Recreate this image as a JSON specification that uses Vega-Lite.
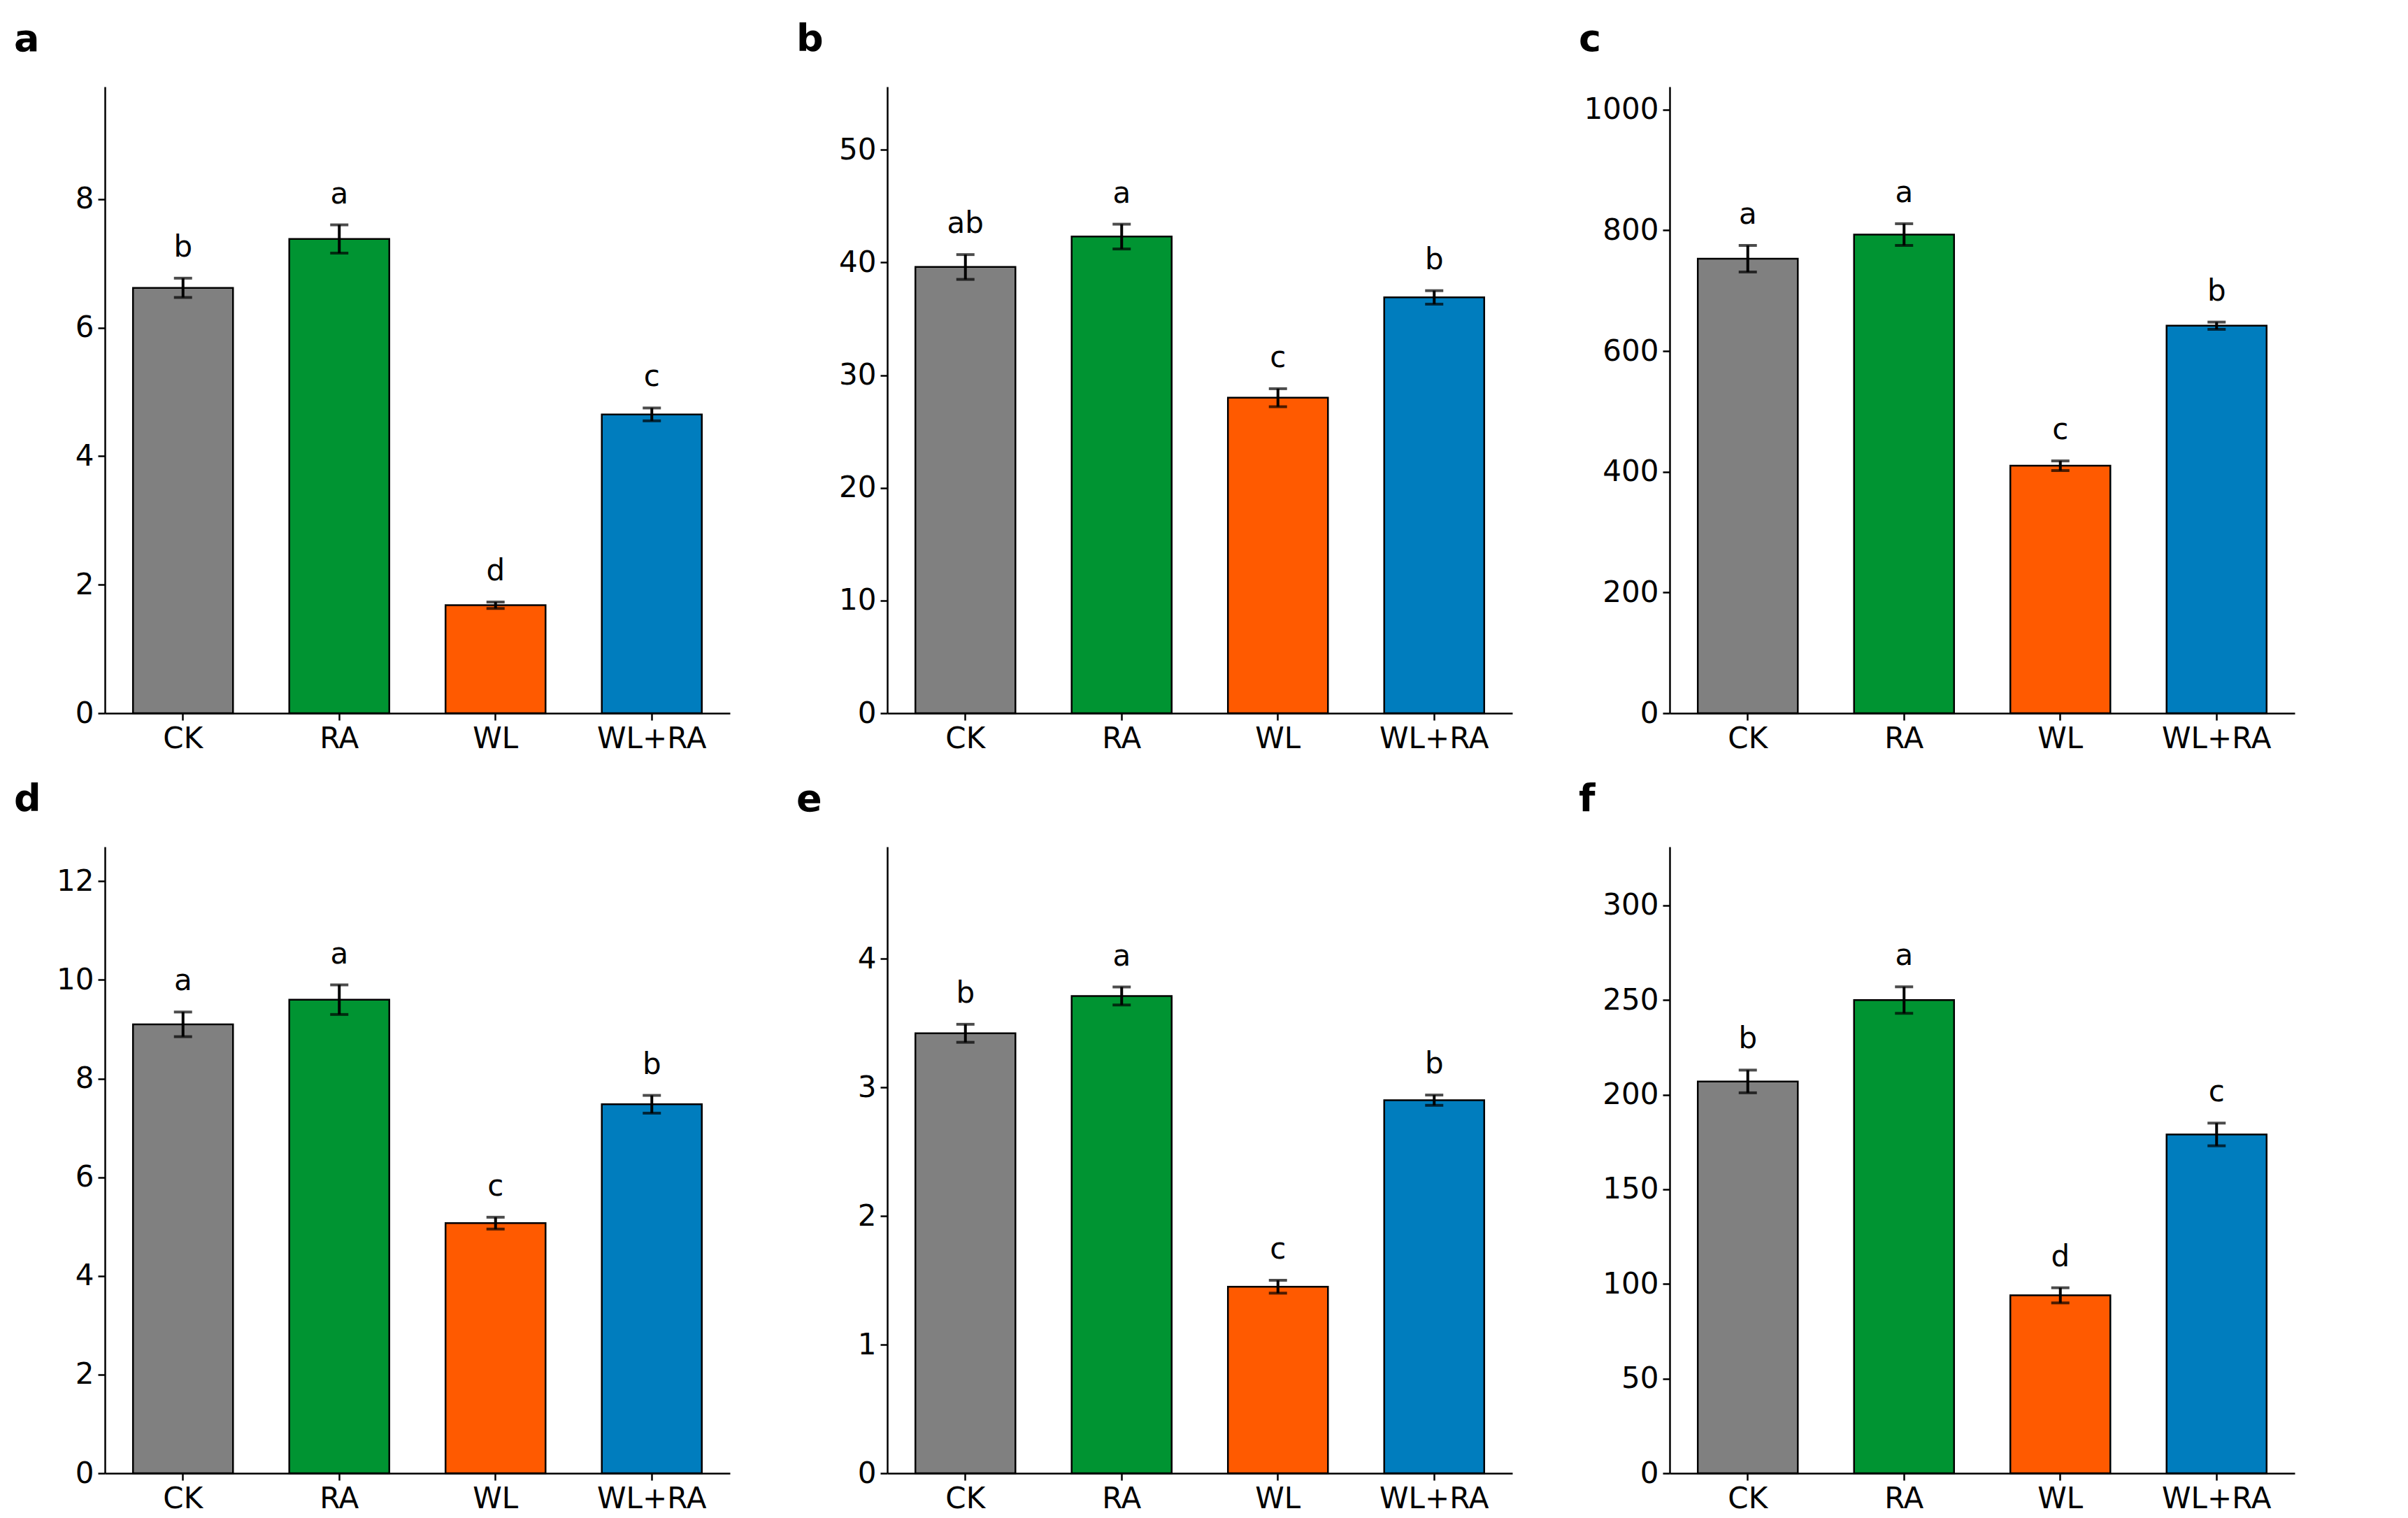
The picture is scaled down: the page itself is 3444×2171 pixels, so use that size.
{
  "$schema": "https://vega.github.io/schema/vega-lite/v6.json",
  "background": "white",
  "padding": {"left": 20, "top": 30, "right": 10, "bottom": 10},
  "datasets": {
    "d": [
      {"p": "a", "trt": "CK", "mean": 6.62, "lo": 6.47, "hi": 6.77, "let": "b"},
      {"p": "a", "trt": "RA", "mean": 7.38, "lo": 7.16, "hi": 7.60, "let": "a"},
      {"p": "a", "trt": "WL", "mean": 1.68, "lo": 1.63, "hi": 1.73, "let": "d"},
      {"p": "a", "trt": "WL+RA", "mean": 4.65, "lo": 4.55, "hi": 4.75, "let": "c"},
      {"p": "b", "trt": "CK", "mean": 39.6, "lo": 38.5, "hi": 40.7, "let": "ab"},
      {"p": "b", "trt": "RA", "mean": 42.3, "lo": 41.2, "hi": 43.4, "let": "a"},
      {"p": "b", "trt": "WL", "mean": 28.0, "lo": 27.2, "hi": 28.8, "let": "c"},
      {"p": "b", "trt": "WL+RA", "mean": 36.9, "lo": 36.3, "hi": 37.5, "let": "b"},
      {"p": "c", "trt": "CK", "mean": 753, "lo": 731, "hi": 775, "let": "a"},
      {"p": "c", "trt": "RA", "mean": 793, "lo": 775, "hi": 811, "let": "a"},
      {"p": "c", "trt": "WL", "mean": 410, "lo": 402, "hi": 418, "let": "c"},
      {"p": "c", "trt": "WL+RA", "mean": 642, "lo": 636, "hi": 648, "let": "b"},
      {"p": "d", "trt": "CK", "mean": 9.1, "lo": 8.85, "hi": 9.35, "let": "a"},
      {"p": "d", "trt": "RA", "mean": 9.6, "lo": 9.3, "hi": 9.9, "let": "a"},
      {"p": "d", "trt": "WL", "mean": 5.07, "lo": 4.95, "hi": 5.19, "let": "c"},
      {"p": "d", "trt": "WL+RA", "mean": 7.48, "lo": 7.3, "hi": 7.66, "let": "b"},
      {"p": "e", "trt": "CK", "mean": 3.42, "lo": 3.35, "hi": 3.49, "let": "b"},
      {"p": "e", "trt": "RA", "mean": 3.71, "lo": 3.64, "hi": 3.78, "let": "a"},
      {"p": "e", "trt": "WL", "mean": 1.45, "lo": 1.40, "hi": 1.50, "let": "c"},
      {"p": "e", "trt": "WL+RA", "mean": 2.90, "lo": 2.86, "hi": 2.94, "let": "b"},
      {"p": "f", "trt": "CK", "mean": 207, "lo": 201, "hi": 213, "let": "b"},
      {"p": "f", "trt": "RA", "mean": 250, "lo": 243, "hi": 257, "let": "a"},
      {"p": "f", "trt": "WL", "mean": 94, "lo": 90, "hi": 98, "let": "d"},
      {"p": "f", "trt": "WL+RA", "mean": 179, "lo": 173, "hi": 185, "let": "c"}
    ]
  },
  "columns": 3,
  "spacing": {"column": 95, "row": 40},
  "concat": [
    {
      "title": "a", "width": 894, "height": 896,
      "data": {"name": "d"}, "transform": [{"filter": "datum.p == 'a'"}],
      "encoding": {"x": {"field": "trt", "type": "nominal", "sort": null, "title": null, "scale": {"paddingInner": 0.36, "paddingOuter": 0.18}}},
      "layer": [
        {"mark": {"type": "bar", "stroke": "black", "strokeWidth": 2.5}, "encoding": {"y": {"field": "mean", "type": "quantitative", "title": "Root-zone dissolved oxygen (mg L⁻¹)", "scale": {"domain": [0, 9.75], "nice": false}, "axis": {"values": [0, 2, 4, 6, 8], "format": "d"}}, "color": {"field": "trt", "type": "nominal", "sort": null, "legend": null}}},
        {"mark": {"type": "errorbar", "ticks": {"size": 26, "strokeWidth": 4}, "color": "black", "thickness": 4}, "encoding": {"y": {"field": "lo", "type": "quantitative", "title": null}, "y2": {"field": "hi"}}},
        {"mark": {"type": "text", "dy": -22, "baseline": "bottom", "fontSize": 42}, "encoding": {"y": {"field": "hi", "type": "quantitative", "title": null}, "text": {"field": "let"}}}
      ]
    },
    {
      "title": "b", "width": 894, "height": 896,
      "data": {"name": "d"}, "transform": [{"filter": "datum.p == 'b'"}],
      "encoding": {"x": {"field": "trt", "type": "nominal", "sort": null, "title": null, "scale": {"paddingInner": 0.36, "paddingOuter": 0.18}}},
      "layer": [
        {"mark": {"type": "bar", "stroke": "black", "strokeWidth": 2.5}, "encoding": {"y": {"field": "mean", "type": "quantitative", "title": "Plant height (cm)", "scale": {"domain": [0, 55.6], "nice": false}, "axis": {"values": [0, 10, 20, 30, 40, 50], "format": "d"}}, "color": {"field": "trt", "type": "nominal", "sort": null, "legend": null}}},
        {"mark": {"type": "errorbar", "ticks": {"size": 26, "strokeWidth": 4}, "color": "black", "thickness": 4}, "encoding": {"y": {"field": "lo", "type": "quantitative", "title": null}, "y2": {"field": "hi"}}},
        {"mark": {"type": "text", "dy": -22, "baseline": "bottom", "fontSize": 42}, "encoding": {"y": {"field": "hi", "type": "quantitative", "title": null}, "text": {"field": "let"}}}
      ]
    },
    {
      "title": "c", "width": 894, "height": 896,
      "data": {"name": "d"}, "transform": [{"filter": "datum.p == 'c'"}],
      "encoding": {"x": {"field": "trt", "type": "nominal", "sort": null, "title": null, "scale": {"paddingInner": 0.36, "paddingOuter": 0.18}}},
      "layer": [
        {"mark": {"type": "bar", "stroke": "black", "strokeWidth": 2.5}, "encoding": {"y": {"field": "mean", "type": "quantitative", "title": "Total leaf area (cm² plant⁻¹)", "scale": {"domain": [0, 1038], "nice": false}, "axis": {"values": [0, 200, 400, 600, 800, 1000], "format": "d"}}, "color": {"field": "trt", "type": "nominal", "sort": null, "legend": null}}},
        {"mark": {"type": "errorbar", "ticks": {"size": 26, "strokeWidth": 4}, "color": "black", "thickness": 4}, "encoding": {"y": {"field": "lo", "type": "quantitative", "title": null}, "y2": {"field": "hi"}}},
        {"mark": {"type": "text", "dy": -22, "baseline": "bottom", "fontSize": 42}, "encoding": {"y": {"field": "hi", "type": "quantitative", "title": null}, "text": {"field": "let"}}}
      ]
    },
    {
      "title": "d", "width": 894, "height": 896,
      "data": {"name": "d"}, "transform": [{"filter": "datum.p == 'd'"}],
      "encoding": {"x": {"field": "trt", "type": "nominal", "sort": null, "title": null, "scale": {"paddingInner": 0.36, "paddingOuter": 0.18}}},
      "layer": [
        {"mark": {"type": "bar", "stroke": "black", "strokeWidth": 2.5}, "encoding": {"y": {"field": "mean", "type": "quantitative", "title": "Shoot dry weight (g plant⁻¹)", "scale": {"domain": [0, 12.7], "nice": false}, "axis": {"values": [0, 2, 4, 6, 8, 10, 12], "format": "d"}}, "color": {"field": "trt", "type": "nominal", "sort": null, "legend": null}}},
        {"mark": {"type": "errorbar", "ticks": {"size": 26, "strokeWidth": 4}, "color": "black", "thickness": 4}, "encoding": {"y": {"field": "lo", "type": "quantitative", "title": null}, "y2": {"field": "hi"}}},
        {"mark": {"type": "text", "dy": -22, "baseline": "bottom", "fontSize": 42}, "encoding": {"y": {"field": "hi", "type": "quantitative", "title": null}, "text": {"field": "let"}}}
      ]
    },
    {
      "title": "e", "width": 894, "height": 896,
      "data": {"name": "d"}, "transform": [{"filter": "datum.p == 'e'"}],
      "encoding": {"x": {"field": "trt", "type": "nominal", "sort": null, "title": null, "scale": {"paddingInner": 0.36, "paddingOuter": 0.18}}},
      "layer": [
        {"mark": {"type": "bar", "stroke": "black", "strokeWidth": 2.5}, "encoding": {"y": {"field": "mean", "type": "quantitative", "title": "Root dry weight (g plant⁻¹)", "scale": {"domain": [0, 4.87], "nice": false}, "axis": {"values": [0, 1, 2, 3, 4], "format": "d"}}, "color": {"field": "trt", "type": "nominal", "sort": null, "legend": null}}},
        {"mark": {"type": "errorbar", "ticks": {"size": 26, "strokeWidth": 4}, "color": "black", "thickness": 4}, "encoding": {"y": {"field": "lo", "type": "quantitative", "title": null}, "y2": {"field": "hi"}}},
        {"mark": {"type": "text", "dy": -22, "baseline": "bottom", "fontSize": 42}, "encoding": {"y": {"field": "hi", "type": "quantitative", "title": null}, "text": {"field": "let"}}}
      ]
    },
    {
      "title": "f", "width": 894, "height": 896,
      "data": {"name": "d"}, "transform": [{"filter": "datum.p == 'f'"}],
      "encoding": {"x": {"field": "trt", "type": "nominal", "sort": null, "title": null, "scale": {"paddingInner": 0.36, "paddingOuter": 0.18}}},
      "layer": [
        {"mark": {"type": "bar", "stroke": "black", "strokeWidth": 2.5}, "encoding": {"y": {"field": "mean", "type": "quantitative", "title": "Root activity (μg TPF g⁻¹ FW h⁻¹)", "scale": {"domain": [0, 331], "nice": false}, "axis": {"values": [0, 50, 100, 150, 200, 250, 300], "format": "d"}}, "color": {"field": "trt", "type": "nominal", "sort": null, "legend": null}}},
        {"mark": {"type": "errorbar", "ticks": {"size": 26, "strokeWidth": 4}, "color": "black", "thickness": 4}, "encoding": {"y": {"field": "lo", "type": "quantitative", "title": null}, "y2": {"field": "hi"}}},
        {"mark": {"type": "text", "dy": -22, "baseline": "bottom", "fontSize": 42}, "encoding": {"y": {"field": "hi", "type": "quantitative", "title": null}, "text": {"field": "let"}}}
      ]
    }
  ],
  "resolve": {"scale": {"y": "independent"}},
  "config": {
    "font": "DejaVu Sans",
    "view": {"stroke": null},
    "range": {"category": ["#808080", "#009432", "#ff5a00", "#007dbe"]},
    "title": {"fontSize": 54, "fontWeight": "bold", "anchor": "start", "frame": "group", "dx": -130, "offset": 40, "color": "black"},
    "axis": {"labelFontSize": 42, "titleFontSize": 46, "titleFontWeight": "normal", "labelColor": "black", "titleColor": "black", "domainColor": "black", "tickColor": "black", "domainWidth": 2.5, "tickWidth": 2.5, "tickSize": 10, "grid": false, "labelPadding": 6, "titlePadding": 16},
    "axisX": {"labelAngle": 0},
    "text": {"font": "DejaVu Sans", "color": "black"}
  }
}
